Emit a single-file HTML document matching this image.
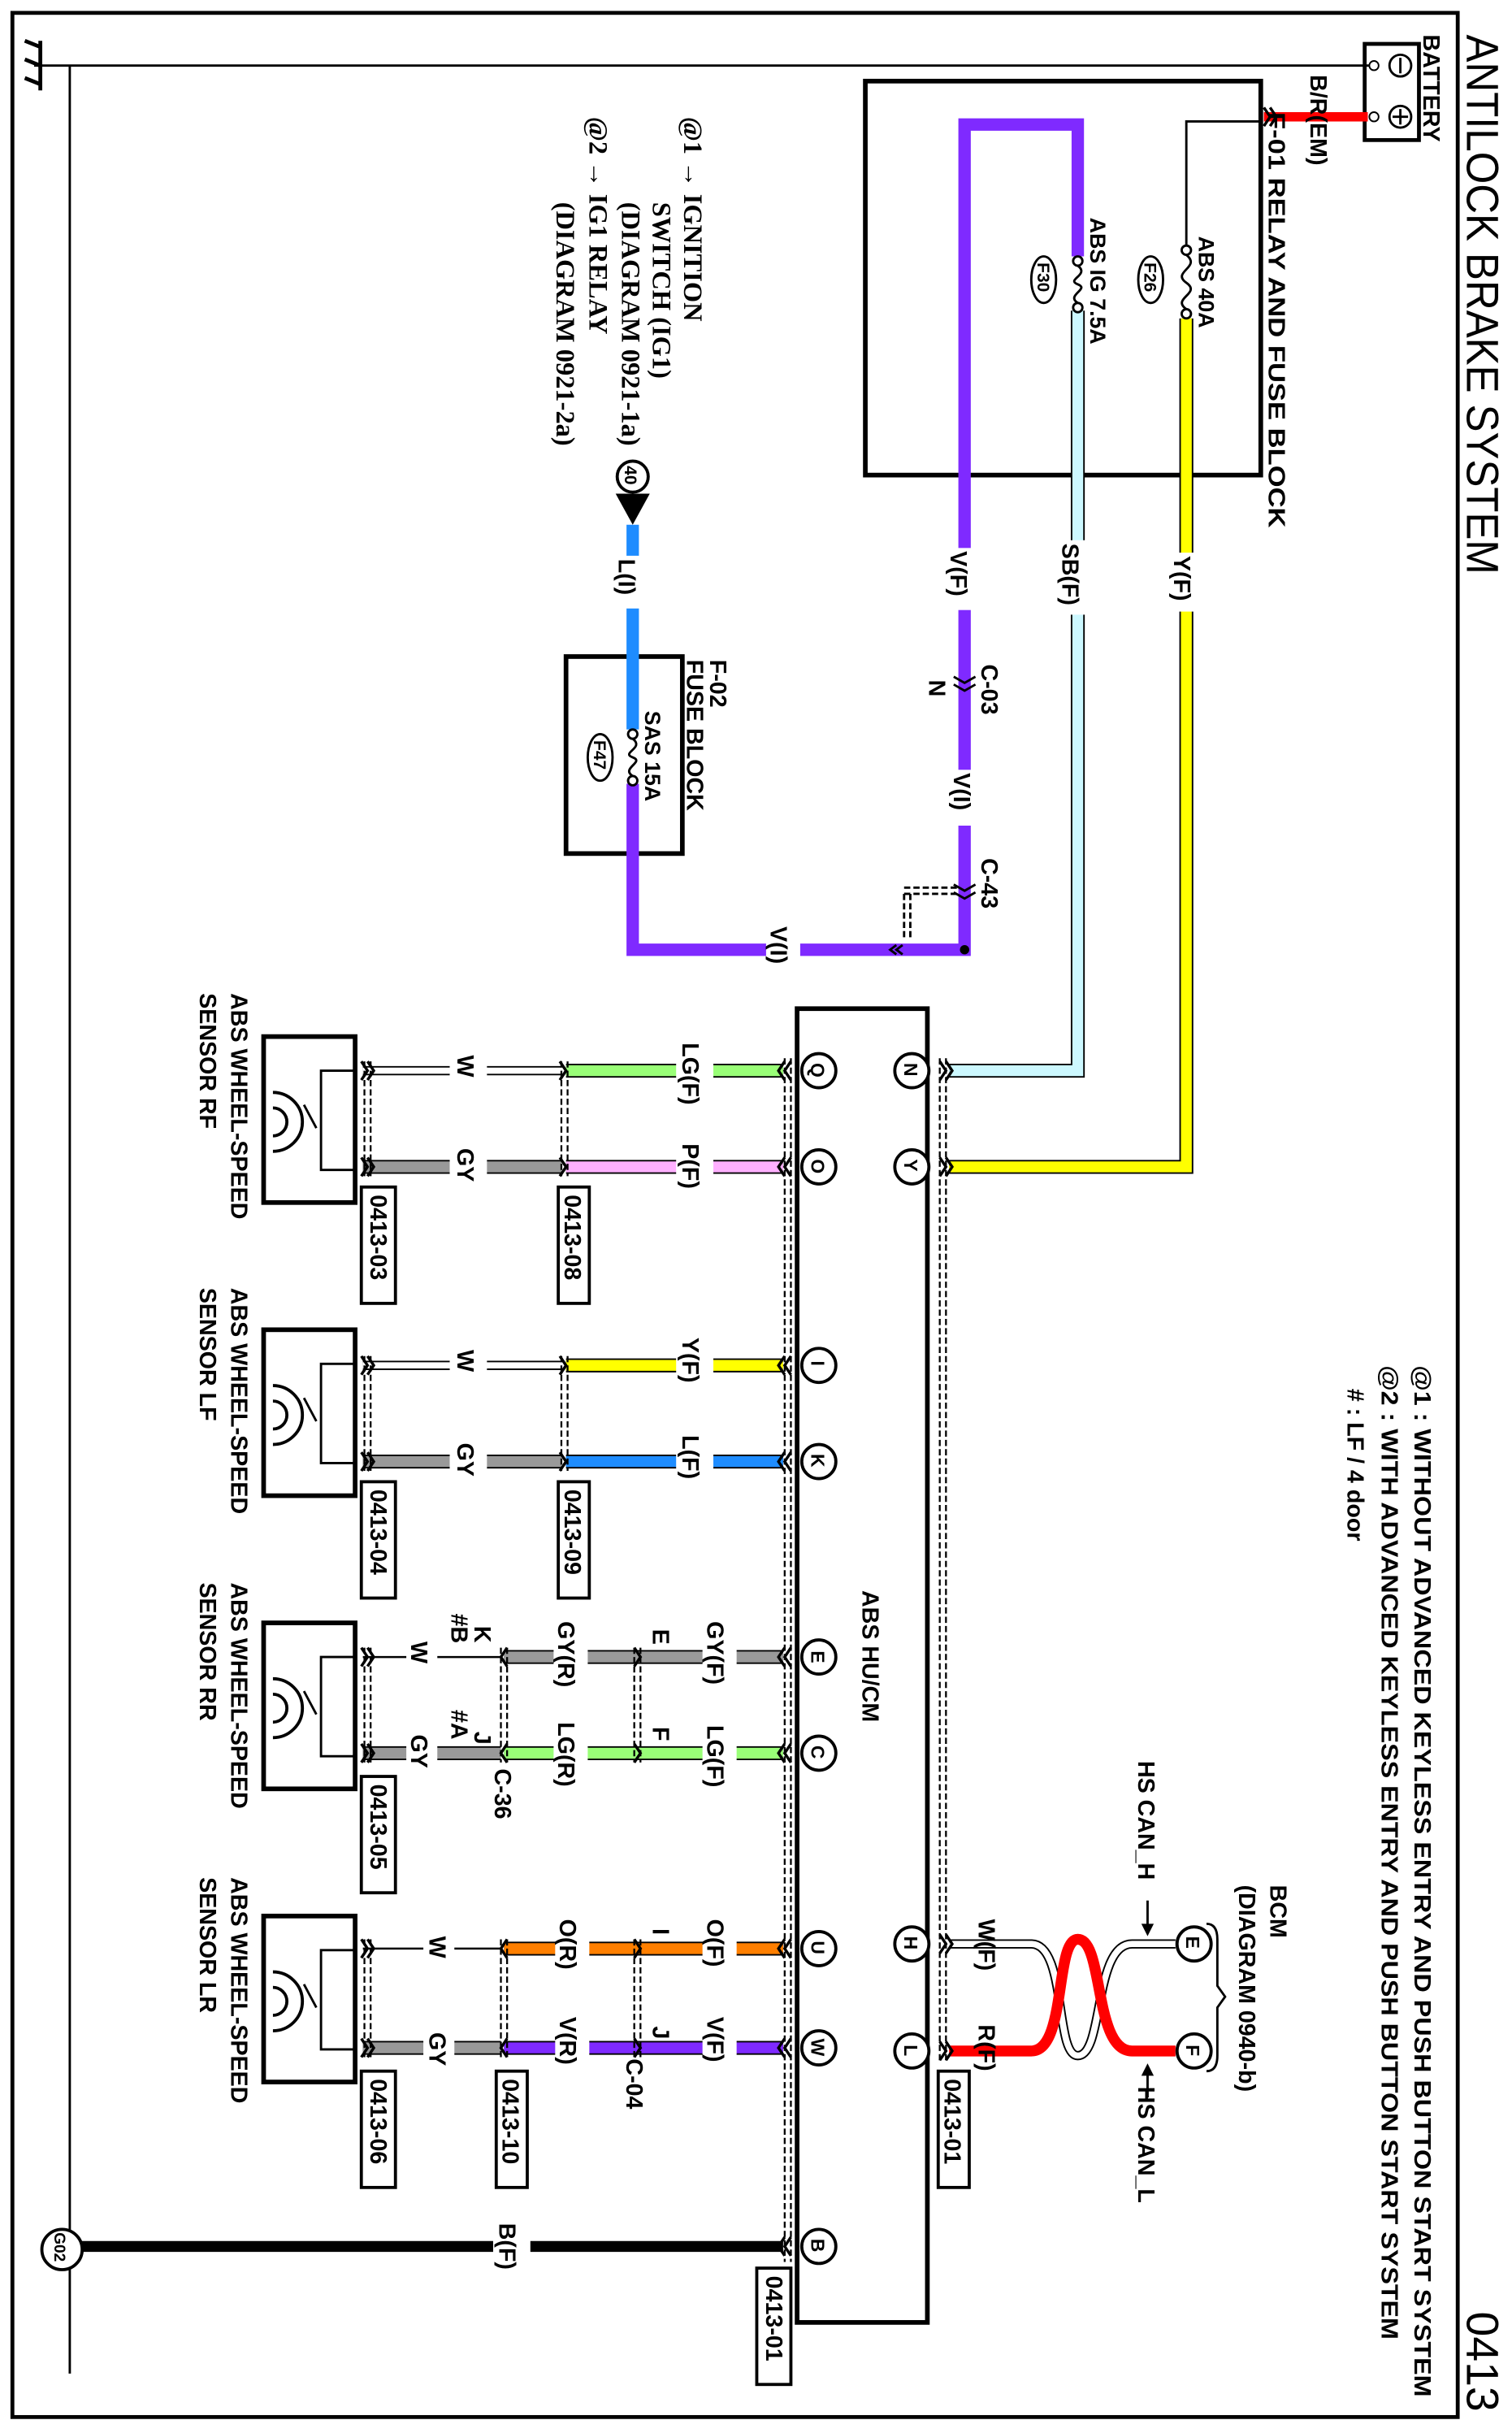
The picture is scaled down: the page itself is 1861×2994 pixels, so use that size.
<!DOCTYPE html>
<html><head><meta charset="utf-8"><style>html,body{margin:0;padding:0;background:#fff}svg{display:block}text{font-family:"Liberation Sans",Arial,sans-serif;fill:#000;font-weight:bold}.s{font-family:"Liberation Serif",serif;font-weight:bold}.n{font-weight:normal}</style></head><body>
<svg width="1861" height="2994" viewBox="0 0 975 1568" xmlns="http://www.w3.org/2000/svg">
<rect x="0" y="0" width="975" height="1568" fill="#fff"/>
<rect x="8" y="8" width="932" height="1550" fill="none" stroke="#000" stroke-width="2.5"/>
<line x1="22" y1="42" x2="885" y2="42" stroke="#000" stroke-width="1.5"/>
<line x1="45" y1="42" x2="45" y2="1530" stroke="#000" stroke-width="1.5"/>
<g stroke="#000" stroke-width="2.5" fill="none"><line x1="26" y1="26" x2="26" y2="58"/><line x1="26" y1="30" x2="16" y2="26"/><line x1="26" y1="42" x2="16" y2="38"/><line x1="26" y1="54" x2="16" y2="50"/></g>
<rect x="880" y="28" width="35" height="62" fill="none" stroke="#000" stroke-width="2.5"/>
<circle cx="903" cy="42" r="7" fill="none" stroke="#000" stroke-width="1.5"/><line x1="903" y1="37" x2="903" y2="47" stroke="#000" stroke-width="1.5"/>
<circle cx="903" cy="75" r="7" fill="none" stroke="#000" stroke-width="1.5"/><line x1="903" y1="70" x2="903" y2="80" stroke="#000" stroke-width="1.5"/><line x1="898" y1="75" x2="908" y2="75" stroke="#000" stroke-width="1.5"/>
<circle cx="886" cy="42" r="3" fill="#fff" stroke="#000"/><circle cx="886" cy="75" r="3" fill="#fff" stroke="#000"/>
<rect x="558" y="52" width="255" height="254" fill="none" stroke="#000" stroke-width="3"/>
<rect x="365" y="423" width="75" height="127" fill="none" stroke="#000" stroke-width="3"/>
<rect x="514" y="650" width="84" height="847" fill="none" stroke="#000" stroke-width="3"/>
<line x1="815" y1="75" x2="882" y2="75" stroke="#f00" stroke-width="6"/>
<polyline points="812,78 765,78 765,158" fill="none" stroke="#000" stroke-width="1.5"/>
<polyline points="765,205 765,752 612,752" fill="none" stroke="#000" stroke-width="9"/>
<polyline points="765,205 765,752 612,752" fill="none" stroke="#ff0" stroke-width="7"/>
<polyline points="695,200 695,690 612,690" fill="none" stroke="#000" stroke-width="9"/>
<polyline points="695,200 695,690 612,690" fill="none" stroke="#ccf8ff" stroke-width="7"/>
<polyline points="695,165 695,80 622,80 622,612 408,612 408,505" fill="none" stroke="#7f2aff" stroke-width="8"/>
<line x1="408" y1="338" x2="408" y2="470" stroke="#1e8cff" stroke-width="8"/>
<g fill="none" stroke="#000" stroke-width="1.5">
<circle cx="765" cy="161" r="3" fill="#fff"/><circle cx="765" cy="202" r="3" fill="#fff"/><path d="M765,164 C775,172 755,175 765,182 C775,189 755,192 765,199"/>
<circle cx="695" cy="168" r="3" fill="#fff"/><circle cx="695" cy="198" r="3" fill="#fff"/><path d="M695,171 C703,177 687,180 695,183 C703,186 687,190 695,195"/>
<circle cx="408" cy="473" r="3" fill="#fff"/><circle cx="408" cy="503" r="3" fill="#fff"/><path d="M408,476 C416,482 400,485 408,488 C416,491 400,495 408,500"/>
<ellipse cx="742" cy="180" rx="8" ry="15"/><ellipse cx="673" cy="180" rx="8" ry="15"/><ellipse cx="387" cy="488" rx="8" ry="15"/>
</g>
<circle cx="408" cy="307" r="10" fill="#fff" stroke="#000" stroke-width="2"/>
<polygon points="397,318 419,318 408,338" fill="#000"/>
<g fill="none" stroke="#000" stroke-width="1.5">
<path d="M615,436 l7,4 l7,-4 M615,441 l7,4 l7,-4"/>
<path d="M615,570 l7,4 l7,-4 M615,575 l7,4 l7,-4"/>
<path d="M582,609 l-4,3 l4,3 M578,609 l-4,3 l4,3"/>
<path d="M583,576 L583,606 M587,576 L587,606 M583,572 L618,572 M583,576 L618,576" stroke-dasharray="4,2"/>
</g>
<circle cx="622" cy="612" r="3" fill="#000"/>
<path d="M758,1253 L730,1253 C705,1253 712,1325 695,1325 C680,1325 688,1253 665,1253 L612,1253" fill="none" stroke="#000" stroke-width="6"/>
<path d="M758,1253 L730,1253 C705,1253 712,1325 695,1325 C680,1325 688,1253 665,1253 L612,1253" fill="none" stroke="#fff" stroke-width="4"/>
<path d="M758,1322 L730,1322 C705,1322 712,1250 695,1250 C680,1250 688,1322 665,1322 L612,1322" fill="none" stroke="#f00" stroke-width="7"/>
<g fill="none">
<g stroke="#000" stroke-width="9">
<line x1="365" y1="690" x2="505" y2="690"/><line x1="365" y1="752" x2="505" y2="752"/><line x1="365" y1="880" x2="505" y2="880"/><line x1="365" y1="942" x2="505" y2="942"/>
<line x1="325" y1="1068" x2="505" y2="1068"/><line x1="325" y1="1130" x2="505" y2="1130"/><line x1="325" y1="1256" x2="505" y2="1256"/><line x1="325" y1="1320" x2="505" y2="1320"/>
<line x1="234" y1="752" x2="362" y2="752"/><line x1="234" y1="942" x2="362" y2="942"/><line x1="234" y1="1130" x2="323" y2="1130"/><line x1="234" y1="1320" x2="323" y2="1320"/>
</g>
<line x1="365" y1="690" x2="505" y2="690" stroke="#99ff77" stroke-width="7"/>
<line x1="365" y1="752" x2="505" y2="752" stroke="#ffb0ff" stroke-width="7"/>
<line x1="365" y1="880" x2="505" y2="880" stroke="#ff0" stroke-width="7"/>
<line x1="365" y1="942" x2="505" y2="942" stroke="#1e8cff" stroke-width="7"/>
<line x1="325" y1="1068" x2="505" y2="1068" stroke="#999" stroke-width="7"/>
<line x1="325" y1="1130" x2="505" y2="1130" stroke="#99ff77" stroke-width="7"/>
<line x1="325" y1="1256" x2="505" y2="1256" stroke="#ff7f00" stroke-width="7"/>
<line x1="325" y1="1320" x2="505" y2="1320" stroke="#7f2aff" stroke-width="7"/>
<g stroke="#999" stroke-width="7"><line x1="234" y1="752" x2="362" y2="752"/><line x1="234" y1="942" x2="362" y2="942"/><line x1="234" y1="1130" x2="323" y2="1130"/><line x1="234" y1="1320" x2="323" y2="1320"/></g>
<g stroke="#000" stroke-width="6"><line x1="234" y1="690" x2="362" y2="690"/><line x1="234" y1="880" x2="362" y2="880"/></g>
<g stroke="#fff" stroke-width="4"><line x1="234" y1="690" x2="362" y2="690"/><line x1="234" y1="880" x2="362" y2="880"/></g>
<g stroke="#000" stroke-width="1.3"><line x1="234" y1="1068" x2="323" y2="1068"/><line x1="234" y1="1256" x2="323" y2="1256"/></g>
<line x1="52" y1="1448" x2="505" y2="1448" stroke="#000" stroke-width="7"/>
</g>
<g stroke="#000" stroke-width="1.2" stroke-dasharray="4,2" fill="none">
<line x1="606" y1="682" x2="606" y2="1330"/><line x1="610" y1="682" x2="610" y2="1330"/>
<line x1="506" y1="682" x2="506" y2="1458"/><line x1="510" y1="682" x2="510" y2="1458"/>
<line x1="235" y1="684" x2="235" y2="758"/><line x1="239" y1="684" x2="239" y2="758"/>
<line x1="235" y1="874" x2="235" y2="948"/><line x1="239" y1="874" x2="239" y2="948"/>
<line x1="235" y1="1062" x2="235" y2="1136"/><line x1="239" y1="1062" x2="239" y2="1136"/>
<line x1="235" y1="1250" x2="235" y2="1326"/><line x1="239" y1="1250" x2="239" y2="1326"/>
<line x1="362" y1="684" x2="362" y2="758"/><line x1="366" y1="684" x2="366" y2="758"/>
<line x1="362" y1="874" x2="362" y2="948"/><line x1="366" y1="874" x2="366" y2="948"/>
<line x1="323" y1="1062" x2="323" y2="1136"/><line x1="327" y1="1062" x2="327" y2="1136"/>
<line x1="409" y1="1062" x2="409" y2="1136"/><line x1="413" y1="1062" x2="413" y2="1136"/>
<line x1="323" y1="1250" x2="323" y2="1326"/><line x1="327" y1="1250" x2="327" y2="1326"/>
<line x1="409" y1="1250" x2="409" y2="1326"/><line x1="413" y1="1250" x2="413" y2="1326"/>
</g>
<g stroke="#000" stroke-width="1.8" fill="none">
<path d="M815,69 l4,6 l-4,6 M819,69 l4,6 l-4,6"/>
<path d="M606,684 l4,6 l-4,6 M610,684 l4,6 l-4,6"/><path d="M606,746 l4,6 l-4,6 M610,746 l4,6 l-4,6"/>
<path d="M606,1247 l4,6 l-4,6 M610,1247 l4,6 l-4,6"/><path d="M606,1316 l4,6 l-4,6 M610,1316 l4,6 l-4,6"/>
<path d="M510,684 l-4,6 l4,6 M506,684 l-4,6 l4,6"/><path d="M510,746 l-4,6 l4,6 M506,746 l-4,6 l4,6"/>
<path d="M510,874 l-4,6 l4,6 M506,874 l-4,6 l4,6"/><path d="M510,936 l-4,6 l4,6 M506,936 l-4,6 l4,6"/>
<path d="M510,1062 l-4,6 l4,6 M506,1062 l-4,6 l4,6"/><path d="M510,1124 l-4,6 l4,6 M506,1124 l-4,6 l4,6"/>
<path d="M510,1250 l-4,6 l4,6 M506,1250 l-4,6 l4,6"/><path d="M510,1314 l-4,6 l4,6 M506,1314 l-4,6 l4,6"/>
<path d="M510,1442 l-4,6 l4,6 M506,1442 l-4,6 l4,6"/>
<path d="M233,684 l4,6 l-4,6 M237,684 l4,6 l-4,6"/><path d="M233,746 l4,6 l-4,6 M237,746 l4,6 l-4,6"/>
<path d="M233,874 l4,6 l-4,6 M237,874 l4,6 l-4,6"/><path d="M233,936 l4,6 l-4,6 M237,936 l4,6 l-4,6"/>
<path d="M233,1062 l4,6 l-4,6 M237,1062 l4,6 l-4,6"/><path d="M233,1124 l4,6 l-4,6 M237,1124 l4,6 l-4,6"/>
<path d="M233,1250 l4,6 l-4,6 M237,1250 l4,6 l-4,6"/><path d="M233,1314 l4,6 l-4,6 M237,1314 l4,6 l-4,6"/>
<path d="M361,684 l4,6 l-4,6"/><path d="M361,746 l4,6 l-4,6"/><path d="M361,874 l4,6 l-4,6"/><path d="M361,936 l4,6 l-4,6"/>
<path d="M327,1062 l-4,6 l4,6"/><path d="M327,1124 l-4,6 l4,6"/><path d="M327,1250 l-4,6 l4,6"/><path d="M327,1314 l-4,6 l4,6"/>
<path d="M409,1062 l4,6 l-4,6"/><path d="M409,1124 l4,6 l-4,6"/><path d="M409,1250 l4,6 l-4,6"/><path d="M409,1314 l4,6 l-4,6"/>
</g>
<g fill="none" stroke="#000">
<g id="sn"><rect x="170" y="668" width="59" height="107" stroke-width="3"/><polyline points="229,690 207,690 207,754 229,754" stroke-width="1.5"/><path d="M196,712 L204,727" stroke-width="1.5"/><path d="M176,704 A19,19 0 0 1 176,742" stroke-width="2"/><path d="M176,714 A9,9 0 0 1 176,732" stroke-width="2"/></g>
<use href="#sn" y="189"/><use href="#sn" y="378"/><use href="#sn" y="567"/>
<rect x="233" y="765" width="22" height="75" stroke-width="2"/><rect x="360" y="765" width="20" height="75" stroke-width="2"/>
<rect x="233" y="955" width="22" height="75" stroke-width="2"/><rect x="360" y="955" width="20" height="75" stroke-width="2"/>
<rect x="233" y="1145" width="22" height="75" stroke-width="2"/><rect x="233" y="1335" width="22" height="75" stroke-width="2"/>
<rect x="320" y="1335" width="20" height="75" stroke-width="2"/><rect x="605" y="1335" width="20" height="75" stroke-width="2"/>
<rect x="488" y="1462" width="22" height="75" stroke-width="2"/>
<path d="M778,1240 Q785,1240 785,1250 L785,1280 L790,1287 L785,1294 L785,1325 Q785,1335 778,1335" stroke-width="1.5"/>
<line x1="740" y1="1225" x2="740" y2="1246" stroke-width="1.5"/><line x1="740" y1="1333" x2="740" y2="1352" stroke-width="1.5"/>
</g>
<polygon points="736,1240 744,1240 740,1248" fill="#000"/><polygon points="736,1338 744,1338 740,1330" fill="#000"/>
<g fill="#fff" stroke="#000" stroke-width="2">
<circle cx="588" cy="690" r="11"/><circle cx="588" cy="752" r="11"/><circle cx="588" cy="1253" r="11"/><circle cx="588" cy="1322" r="11"/>
<circle cx="528" cy="690" r="11"/><circle cx="528" cy="752" r="11"/><circle cx="528" cy="880" r="11"/><circle cx="528" cy="942" r="11"/>
<circle cx="528" cy="1068" r="11"/><circle cx="528" cy="1130" r="11"/><circle cx="528" cy="1256" r="11"/><circle cx="528" cy="1320" r="11"/><circle cx="528" cy="1448" r="11"/>
<circle cx="770" cy="1253" r="11"/><circle cx="770" cy="1322" r="11"/><circle cx="40" cy="1450" r="13"/>
</g>
<g fill="#fff">
<rect x="754" y="356" width="22" height="38"/><rect x="682" y="348" width="22" height="48"/><rect x="610" y="353" width="22" height="40"/><rect x="612" y="496" width="22" height="36"/><rect x="396" y="358" width="22" height="34"/><rect x="494" y="595" width="22" height="32"/>
<rect x="290" y="676" width="24" height="24"/><rect x="290" y="737" width="24" height="30"/><rect x="290" y="866" width="24" height="24"/><rect x="290" y="927" width="24" height="30"/>
<rect x="436" y="670" width="24" height="46"/><rect x="436" y="735" width="24" height="38"/><rect x="436" y="860" width="24" height="38"/><rect x="436" y="923" width="24" height="38"/>
<rect x="318" y="1431" width="24" height="38"/>
<rect x="453" y="1043" width="22" height="50"/><rect x="453" y="1110" width="22" height="44"/><rect x="357" y="1043" width="22" height="50"/><rect x="357" y="1108" width="22" height="46"/>
<rect x="453" y="1235" width="22" height="44"/><rect x="453" y="1298" width="22" height="44"/><rect x="358" y="1235" width="22" height="44"/><rect x="358" y="1298" width="22" height="44"/>
<rect x="262" y="1056" width="20" height="24"/><rect x="262" y="1116" width="20" height="30"/><rect x="273" y="1246" width="20" height="24"/><rect x="273" y="1308" width="20" height="30"/>
</g>
<g font-size="15">
<text class="n" x="946" y="22" transform="rotate(90 946 22)" font-size="29" textLength="348" lengthAdjust="spacingAndGlyphs">ANTILOCK BRAKE SYSTEM</text>
<text class="n" x="946" y="1490" transform="rotate(90 946 1490)" font-size="29">0413</text>
<text x="912" y="880" transform="rotate(90 912 880)" textLength="665" lengthAdjust="spacingAndGlyphs">@1 : WITHOUT ADVANCED KEYLESS ENTRY AND PUSH BUTTON START SYSTEM</text>
<text x="891" y="880" transform="rotate(90 891 880)" textLength="628" lengthAdjust="spacingAndGlyphs">@2 : WITH ADVANCED KEYLESS ENTRY AND PUSH BUTTON START SYSTEM</text>
<text x="869" y="895" transform="rotate(90 869 895)"># : LF / 4 door</text>
<text x="918" y="22" transform="rotate(90 918 22)">BATTERY</text>
<text x="845" y="48" transform="rotate(90 845 48)">B/R(EM)</text>
<text x="818" y="72" transform="rotate(90 818 72)" textLength="268" lengthAdjust="spacingAndGlyphs">F-01 RELAY AND FUSE BLOCK</text>
<text x="773" y="152" transform="rotate(90 773 152)" font-size="14">ABS 40A</text>
<text x="703" y="140" transform="rotate(90 703 140)" font-size="14">ABS IG 7.5A</text>
<text x="738" y="169" transform="rotate(90 738 169)" font-size="11">F26</text>
<text x="669" y="169" transform="rotate(90 669 169)" font-size="11">F30</text>
<text x="383" y="477" transform="rotate(90 383 477)" font-size="11">F47</text>
<text x="757" y="358" transform="rotate(90 757 358)">Y(F)</text>
<text x="685" y="350" transform="rotate(90 685 350)">SB(F)</text>
<text x="613" y="355" transform="rotate(90 613 355)">V(F)</text>
<text x="633" y="428" transform="rotate(90 633 428)">C-03</text>
<text x="599" y="438" transform="rotate(90 599 438)">N</text>
<text x="615" y="498" transform="rotate(90 615 498)">V(I)</text>
<text x="633" y="553" transform="rotate(90 633 553)">C-43</text>
<text x="497" y="597" transform="rotate(90 497 597)">V(I)</text>
<text x="399" y="360" transform="rotate(90 399 360)">L(I)</text>
<text x="458" y="425" transform="rotate(90 458 425)">F-02</text>
<text x="443" y="425" transform="rotate(90 443 425)">FUSE BLOCK</text>
<text x="416" y="458" transform="rotate(90 416 458)" font-size="14">SAS 15A</text>
<text x="403" y="300" transform="rotate(90 403 300)" font-size="11">40</text>
<text class="s" x="441" y="75" transform="rotate(90 441 75)" font-size="17">@1 → IGNITION</text>
<text class="s" x="421" y="130" transform="rotate(90 421 130)" font-size="17">SWITCH (IG1)</text>
<text class="s" x="401" y="130" transform="rotate(90 401 130)" font-size="17">(DIAGRAM 0921-1a)</text>
<text class="s" x="380" y="75" transform="rotate(90 380 75)" font-size="17">@2 → IG1 RELAY</text>
<text class="s" x="359" y="130" transform="rotate(90 359 130)" font-size="17">(DIAGRAM 0921-2a)</text>
<text x="149" y="640" transform="rotate(90 149 640)">ABS WHEEL-SPEED</text><text x="129" y="640" transform="rotate(90 129 640)">SENSOR RF</text>
<text x="149" y="830" transform="rotate(90 149 830)">ABS WHEEL-SPEED</text><text x="129" y="830" transform="rotate(90 129 830)">SENSOR LF</text>
<text x="149" y="1020" transform="rotate(90 149 1020)">ABS WHEEL-SPEED</text><text x="129" y="1020" transform="rotate(90 129 1020)">SENSOR RR</text>
<text x="149" y="1210" transform="rotate(90 149 1210)">ABS WHEEL-SPEED</text><text x="129" y="1210" transform="rotate(90 129 1210)">SENSOR LR</text>
<text x="295" y="680" transform="rotate(90 295 680)">W</text><text x="295" y="740" transform="rotate(90 295 740)">GY</text>
<text x="440" y="672" transform="rotate(90 440 672)">LG(F)</text><text x="440" y="737" transform="rotate(90 440 737)">P(F)</text>
<text x="295" y="870" transform="rotate(90 295 870)">W</text><text x="295" y="930" transform="rotate(90 295 930)">GY</text>
<text x="440" y="862" transform="rotate(90 440 862)">Y(F)</text><text x="440" y="925" transform="rotate(90 440 925)">L(F)</text>
<text x="456" y="1045" transform="rotate(90 456 1045)">GY(F)</text><text x="456" y="1112" transform="rotate(90 456 1112)">LG(F)</text>
<text x="421" y="1050" transform="rotate(90 421 1050)">E</text><text x="421" y="1113" transform="rotate(90 421 1113)">F</text>
<text x="360" y="1045" transform="rotate(90 360 1045)">GY(R)</text><text x="360" y="1110" transform="rotate(90 360 1110)">LG(R)</text>
<text x="306" y="1048" transform="rotate(90 306 1048)">K</text><text x="291" y="1040" transform="rotate(90 291 1040)">#B</text>
<text x="265" y="1058" transform="rotate(90 265 1058)">W</text>
<text x="306" y="1116" transform="rotate(90 306 1116)">J</text><text x="291" y="1102" transform="rotate(90 291 1102)">#A</text>
<text x="265" y="1118" transform="rotate(90 265 1118)">GY</text><text x="319" y="1140" transform="rotate(90 319 1140)">C-36</text>
<text x="456" y="1237" transform="rotate(90 456 1237)">O(F)</text><text x="456" y="1300" transform="rotate(90 456 1300)">V(F)</text>
<text x="421" y="1243" transform="rotate(90 421 1243)">I</text><text x="421" y="1306" transform="rotate(90 421 1306)">J</text>
<text x="361" y="1237" transform="rotate(90 361 1237)">O(R)</text><text x="361" y="1300" transform="rotate(90 361 1300)">V(R)</text>
<text x="404" y="1327" transform="rotate(90 404 1327)">C-04</text>
<text x="277" y="1248" transform="rotate(90 277 1248)">W</text><text x="277" y="1310" transform="rotate(90 277 1310)">GY</text>
<text x="239" y="770" transform="rotate(90 239 770)">0413-03</text><text x="364" y="770" transform="rotate(90 364 770)">0413-08</text>
<text x="239" y="960" transform="rotate(90 239 960)">0413-04</text><text x="364" y="960" transform="rotate(90 364 960)">0413-09</text>
<text x="239" y="1150" transform="rotate(90 239 1150)">0413-05</text><text x="239" y="1340" transform="rotate(90 239 1340)">0413-06</text>
<text x="324" y="1340" transform="rotate(90 324 1340)">0413-10</text><text x="609" y="1340" transform="rotate(90 609 1340)">0413-01</text>
<text x="494" y="1467" transform="rotate(90 494 1467)">0413-01</text>
<text x="819" y="1215" transform="rotate(90 819 1215)">BCM</text>
<text x="799" y="1215" transform="rotate(90 799 1215)">(DIAGRAM 0940-b)</text>
<text x="734" y="1135" transform="rotate(90 734 1135)">HS CAN_H</text>
<text x="734" y="1345" transform="rotate(90 734 1345)">HS CAN_L</text>
<text x="631" y="1237" transform="rotate(90 631 1237)">W(F)</text><text x="631" y="1305" transform="rotate(90 631 1305)">R(F)</text>
<text x="556" y="1025" transform="rotate(90 556 1025)">ABS HU/CM</text>
<text x="322" y="1433" transform="rotate(90 322 1433)">B(F)</text>
</g>
<g font-size="12">
<text x="583" y="685" transform="rotate(90 583 685)">N</text><text x="583" y="747" transform="rotate(90 583 747)">Y</text>
<text x="583" y="1248" transform="rotate(90 583 1248)">H</text><text x="583" y="1318" transform="rotate(90 583 1318)">L</text>
<text x="523" y="685" transform="rotate(90 523 685)">Q</text><text x="523" y="747" transform="rotate(90 523 747)">O</text>
<text x="523" y="877" transform="rotate(90 523 877)">I</text><text x="523" y="937" transform="rotate(90 523 937)">K</text>
<text x="523" y="1064" transform="rotate(90 523 1064)">E</text><text x="523" y="1125" transform="rotate(90 523 1125)">C</text>
<text x="523" y="1251" transform="rotate(90 523 1251)">U</text><text x="523" y="1314" transform="rotate(90 523 1314)">W</text>
<text x="523" y="1443" transform="rotate(90 523 1443)">B</text>
<text x="765" y="1248" transform="rotate(90 765 1248)">E</text><text x="765" y="1318" transform="rotate(90 765 1318)">F</text>
<text x="35" y="1439" transform="rotate(90 35 1439)" font-size="10">G02</text>
</g>
</svg>
</body></html>
